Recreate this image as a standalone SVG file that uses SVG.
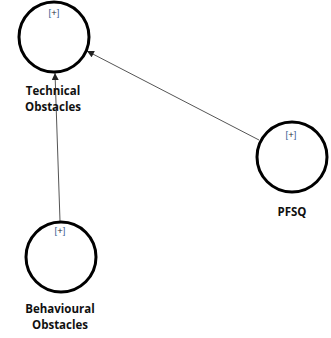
<svg xmlns="http://www.w3.org/2000/svg" width="331" height="338" viewBox="0 0 331 338">
  <style>
    .lv { fill: #fff; stroke: #000; stroke-width: 3; }
    .name { font-family: "Open Sans", "DejaVu Sans", sans-serif; font-weight: bold; font-size: 11.5px; fill: #111; text-anchor: middle; }
    .exp { font-family: "Liberation Sans", Arial, sans-serif; font-size: 9.5px; text-anchor: middle; }
    .br { fill: #3d6596; }
    .pl { fill: #2b2b3a; }
    .edge { stroke: #555; stroke-width: 1; fill: none; marker-end: url(#tip); }
  </style>
  <defs>
    <marker id="tip" viewBox="0 0 10 10" refX="10" refY="5" markerWidth="8" markerHeight="7" orient="auto" markerUnits="userSpaceOnUse">
      <path d="M0,0 L10,5 L0,10 z" fill="#222"/>
    </marker>
  </defs>

  <g id="connectors">
    <line class="edge" x1="60" y1="221" x2="55" y2="73"/>
    <line class="edge" x1="259" y1="140" x2="87" y2="51"/>
  </g>

  <g id="technical-obstacles">
    <circle class="lv" cx="54" cy="37" r="35"/>
    <text class="exp" x="54" y="16"><tspan class="br">[</tspan><tspan class="pl">+</tspan><tspan class="br">]</tspan></text>
    <text class="name" x="53" y="95">Technical</text>
    <text class="name" x="53" y="111">Obstacles</text>
  </g>

  <g id="pfsq">
    <circle class="lv" cx="292" cy="157" r="35"/>
    <text class="exp" x="291" y="138"><tspan class="br">[</tspan><tspan class="pl">+</tspan><tspan class="br">]</tspan></text>
    <text class="name" x="292" y="216">PFSQ</text>
  </g>

  <g id="behavioural-obstacles">
    <circle class="lv" cx="61" cy="257" r="35"/>
    <text class="exp" x="60" y="234"><tspan class="br">[</tspan><tspan class="pl">+</tspan><tspan class="br">]</tspan></text>
    <text class="name" x="60" y="313">Behavioural</text>
    <text class="name" x="60" y="329">Obstacles</text>
  </g>
</svg>
